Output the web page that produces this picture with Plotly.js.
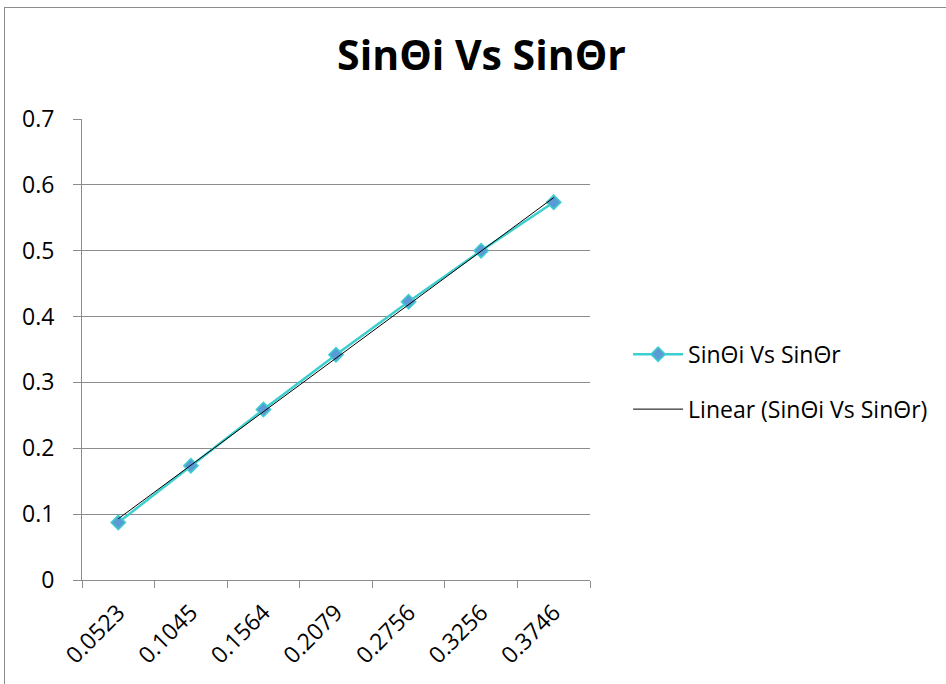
<!DOCTYPE html>
<html>
<head>
<meta charset="utf-8">
<script src="https://cdn.plot.ly/plotly-3.0.1.min.js"></script>
<style>
  html, body { margin: 0; padding: 0; background: #fff; }
  #chart { width: 946px; height: 684px; }
  #frame { position: absolute; left: 4px; top: 7px; width: 1000px; height: 1000px;
           border: 1px solid #8c8c8c; pointer-events: none; }
</style>
</head>
<body>
<div id="chart"></div>
<div id="frame"></div>
<script>
// Data
const categories = ["0.0523", "0.1045", "0.1564", "0.2079", "0.2756", "0.3256", "0.3746"];
const sinValues = [0.0872, 0.1736, 0.2588, 0.3420, 0.4226, 0.5000, 0.5736];
const seriesName = "SinΘi Vs SinΘr";
const trendName = "Linear (SinΘi Vs SinΘr)";

// Linear trendline (least squares on category index, as spreadsheet does)
const n = sinValues.length;
const idx = sinValues.map((_, i) => i + 1);
const mx = idx.reduce((a, b) => a + b, 0) / n;
const my = sinValues.reduce((a, b) => a + b, 0) / n;
let sxy = 0, sxx = 0;
for (let i = 0; i < n; i++) { sxy += (idx[i] - mx) * (sinValues[i] - my); sxx += (idx[i] - mx) ** 2; }
const slope = sxy / sxx, intercept = my - slope * mx;
const trendValues = idx.map(i => intercept + slope * i);

const font = "'Open Sans', 'Noto Sans', 'DejaVu Sans', sans-serif";

const traces = [
  {
    x: categories, y: sinValues, type: "scatter", mode: "lines+markers",
    name: seriesName, legendgroup: "a",
    line: { color: "#3CCFCF", width: 2.5 },
    marker: { symbol: "diamond", size: 11, color: "#5A9BD5", line: { color: "#3CCFCF", width: 1.5 } }
  },
  {
    x: categories, y: trendValues, type: "scatter", mode: "lines",
    name: trendName, legendgroup: "b",
    line: { color: "#000000", width: 1 }
  }
];

const layout = {
  width: 946, height: 684,
  paper_bgcolor: "#ffffff", plot_bgcolor: "#ffffff",
  margin: { l: 82, r: 356, t: 119, b: 104 },
  font: { family: font, size: 23, color: "#000" },
  title: {
    text: "<b>SinΘi Vs SinΘr</b>",
    font: { family: font, size: 41, color: "#000" },
    xref: "container", x: 0.509, xanchor: "center",
    yref: "container", y: 0.918, yanchor: "middle"
  },
  xaxis: {
    type: "category", range: [-0.5, 6.5],
    showgrid: false, zeroline: false,
    showline: true, linecolor: "#8c8c8c", linewidth: 1,
    ticks: "outside", ticklen: 7, tickcolor: "#8c8c8c",
    tickson: "boundaries", ticklabelstandoff: 9,
    tickangle: -45, tickfont: { family: font, size: 23, color: "#000" }
  },
  yaxis: {
    range: [0, 0.7], dtick: 0.1, tick0: 0,
    showgrid: true, gridcolor: "#8c8c8c", gridwidth: 1,
    zeroline: false,
    showline: true, linecolor: "#8c8c8c", linewidth: 1,
    ticks: "outside", ticklen: 8, tickcolor: "#8c8c8c",
    ticklabelstandoff: 14,
    tickfont: { family: font, size: 23, color: "#000" }
  },
  showlegend: true,
  legend: {
    x: 1.075, xanchor: "left", y: 0.43, yanchor: "middle",
    traceorder: "grouped", tracegroupgap: 22,
    font: { family: font, size: 23, color: "#000" },
    bgcolor: "rgba(0,0,0,0)", itemwidth: 50
  }
};

Plotly.newPlot("chart", traces, layout, { displayModeBar: false, staticPlot: true });
</script>
</body>
</html>
